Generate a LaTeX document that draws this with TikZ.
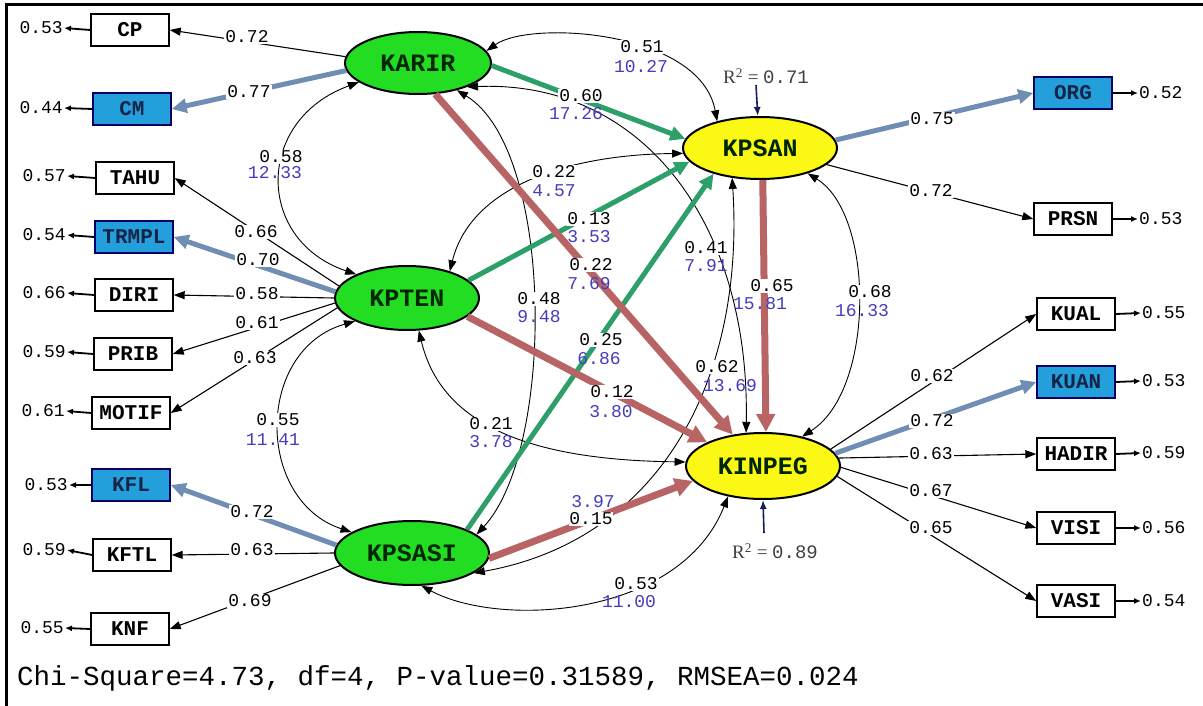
\documentclass[tikz,border=0pt]{standalone}
\usepackage{fontspec}
\setmainfont{Liberation Serif}
\newfontfamily\monofnt{Liberation Mono}
\usetikzlibrary{arrows.meta,shapes.geometric}
\definecolor{lvgreen}{RGB}{34,221,34}
\definecolor{lvyellow}{RGB}{250,248,20}
\definecolor{obsblue}{RGB}{35,160,220}
\definecolor{ldblue}{RGB}{112,142,180}
\definecolor{pathgreen}{RGB}{45,160,105}
\definecolor{pathred}{RGB}{185,100,100}
\definecolor{tblue}{RGB}{70,60,190}
\definecolor{navy}{RGB}{20,30,90}
\definecolor{boxtext}{RGB}{20,35,70}
\begin{document}
\begin{tikzpicture}[x=1pt,y=-1pt,
  latent/.style={ellipse, draw=black, line width=2pt, inner sep=0pt,
    font=\monofnt\bfseries\fontsize{25}{25}\selectfont, text=black!85!green},
  obs/.style={rectangle, draw=black, line width=1.4pt, minimum width=78pt, minimum height=32pt,
    inner sep=0pt, font=\monofnt\bfseries\fontsize{21}{21}\selectfont},
  obsb/.style={obs, fill=obsblue, draw=black!60!blue, text=boxtext},
  lab/.style={font=\monofnt\fontsize{18}{18}\selectfont, fill=white, inner sep=1pt},
  tval/.style={font=\monofnt\fontsize{18}{18}\selectfont, text=tblue, inner sep=1pt},
  errnum/.style={font=\monofnt\fontsize{18}{18}\selectfont, inner sep=1pt},
  load/.style={draw=black, line width=1.1pt, -{Triangle[length=11pt,width=8pt]}},
  loadb/.style={draw=ldblue, line width=5pt, -{Triangle[length=15pt,width=14pt]}},
  gpath/.style={draw=pathgreen, line width=5pt, -{Triangle[length=15pt,width=14pt]}},
  rpath/.style={draw=pathred, line width=7pt, -{Triangle[length=18pt,width=18pt]}},
  cov/.style={draw=black, line width=0.9pt, {Triangle[length=11pt,width=8pt]}-{Triangle[length=11pt,width=8pt]}},
  err/.style={draw=black, line width=1.8pt, -{Latex[length=7pt,width=6pt]}},
  r2arr/.style={draw=navy, line width=1.6pt, -{Latex[length=9pt,width=7pt]}},
  r2lab/.style={font=\fontsize{19}{19}\selectfont, text=black!75, inner sep=1pt}
]
\fill[white] (0,0) rectangle (1203,706);
\useasboundingbox (0,0) rectangle (1203,706);
\draw[line width=3pt] (6.5,706) -- (6.5,5) -- (1203,5);

% latent variables
\node[latent, fill=lvgreen, minimum width=146pt, minimum height=62pt] (KARIR) at (418,63) {KARIR};
\node[latent, fill=lvgreen, minimum width=144pt, minimum height=64pt] (KPTEN) at (407,298) {KPTEN};
\node[latent, fill=lvgreen, minimum width=154pt, minimum height=64pt] (KPSASI) at (412,553) {KPSASI};
\node[latent, fill=lvyellow, minimum width=154pt, minimum height=62pt] (KPSAN) at (760,148) {KPSAN};
\node[latent, fill=lvyellow, minimum width=154pt, minimum height=66pt] (KINPEG) at (763,466) {KINPEG};

% observed variables
\node[obs] (CP) at (130,30) {CP};
\node[obsb] (CM) at (132,109) {CM};
\node[obs] (TAHU) at (135,178) {TAHU};
\node[obsb] (TRMPL) at (134,237) {TRMPL};
\node[obs] (DIRI) at (134,295) {DIRI};
\node[obs] (PRIB) at (133,354) {PRIB};
\node[obs] (MOTIF) at (131,413) {MOTIF};
\node[obsb] (KFL) at (131,485) {KFL};
\node[obs] (KFTL) at (132,555) {KFTL};
\node[obs] (KNF) at (130,629) {KNF};
\node[obsb] (ORG) at (1073,93) {ORG};
\node[obs] (PRSN) at (1073,219) {PRSN};
\node[obs] (KUAL) at (1076,314) {KUAL};
\node[obsb] (KUAN) at (1076,382) {KUAN};
\node[obs] (HADIR) at (1076,454) {HADIR};
\node[obs] (VISI) at (1076,528) {VISI};
\node[obs] (VASI) at (1076,601) {VASI};

% error values
\node[errnum, anchor=east] (eCP) at (64,28) {0.53};
\node[errnum, anchor=east] (eCM) at (64,108) {0.44};
\node[errnum, anchor=east] (eTAHU) at (67,176) {0.57};
\node[errnum, anchor=east] (eTRMPL) at (67,235) {0.54};
\node[errnum, anchor=east] (eDIRI) at (67,293) {0.66};
\node[errnum, anchor=east] (ePRIB) at (67,352) {0.59};
\node[errnum, anchor=east] (eMOTIF) at (66,411) {0.61};
\node[errnum, anchor=east] (eKFL) at (69,485) {0.53};
\node[errnum, anchor=east] (eKFTL) at (67,550) {0.59};
\node[errnum, anchor=east] (eKNF) at (65,628) {0.55};
\node[errnum, anchor=west] (eORG) at (1138,93) {0.52};
\node[errnum, anchor=west] (ePRSN) at (1138,219) {0.53};
\node[errnum, anchor=west] (eKUAL) at (1141,313) {0.55};
\node[errnum, anchor=west] (eKUAN) at (1141,381) {0.53};
\node[errnum, anchor=west] (eHADIR) at (1141,453) {0.59};
\node[errnum, anchor=west] (eVISI) at (1141,528) {0.56};
\node[errnum, anchor=west] (eVASI) at (1141,601) {0.54};
\foreach \b in {CP,CM,TAHU,TRMPL,DIRI,PRIB,MOTIF,KFL,KFTL,KNF}
  \draw[err] (\b.west) -- (e\b.east);
\foreach \b in {ORG,PRSN,KUAL,KUAN,HADIR,VISI,VASI}
  \draw[err] (\b.east) -- (e\b.west);

% covariances
\draw[cov] (KARIR.198) .. controls (255,120) and (255,240) .. (KPTEN.155);
\draw[cov] (KPTEN.204) .. controls (255,350) and (255,500) .. (KPSASI.161);
\draw[cov] (KARIR.10) .. controls (530,20) and (700,30) .. (KPSAN.148);
\draw[cov] (KARIR.334) .. controls (640,80) and (750,220) .. (KINPEG.117);
\draw[cov] (KPTEN.32) .. controls (470,190) and (560,155) .. (KPSAN.184);
\draw[cov] (KARIR.325) .. controls (555,150) and (555,450) .. (KPSASI.16);
\draw[cov] (KPSAN.227) .. controls (745,380) and (660,540) .. (KPSASI.342);
\draw[cov] (KPTEN.290) .. controls (440,420) and (520,460) .. (KINPEG.177);
\draw[cov] (KPSASI.286) .. controls (500,628) and (680,618) .. (KINPEG.221);
\draw[cov] (KPSAN.332) .. controls (875,215) and (875,390) .. (KINPEG.37);

% loadings
\draw[load] (KARIR.175) -- (CP.east);
\draw[loadb] (KARIR.186) -- (CM.east);
\draw[load] (KPTEN.170) -- (TAHU.east);
\draw[loadb] (KPTEN.175) -- (TRMPL.east);
\draw[load] (KPTEN.180) -- (DIRI.east);
\draw[load] (KPTEN.184) -- (PRIB.east);
\draw[load] (KPTEN.188) -- (MOTIF.east);
\draw[loadb] (KPSASI.174) -- (KFL.east);
\draw[load] (KPSASI.180) -- (KFTL.east);
\draw[load] (KPSASI.190) -- (KNF.east);
\draw[loadb] (KPSAN.6) -- (ORG.west);
\draw[load] (KPSAN.346) -- (PRSN.west);
\draw[load] (KINPEG.14) -- (KUAL.west);
\draw[loadb] (KINPEG.10) -- (KUAN.west);
\draw[load] (KINPEG.6) -- (HADIR.west);
\draw[load] (KINPEG.359) -- (VISI.west);
\draw[load] (KINPEG.352) -- (VASI.west);

% structural paths
\draw[gpath] (KARIR.358) -- (KPSAN.173);
\draw[gpath] (KPTEN.16) -- (KPSAN.191);
\draw[gpath] (KPSASI.23) -- (KPSAN.209);
\draw[rpath] (KARIR.299) -- (KINPEG.134);
\draw[rpath] (KPTEN.343) -- (KINPEG.157);
\draw[rpath] (KPSASI.356) -- (KINPEG.192);
\draw[rpath] (KPSAN.275) -- (KINPEG.85);

% R squared
\node[r2lab] (R2a) at (766,76) {R\textsuperscript{2} = {\monofnt 0.71}};
\node[r2lab] (R2b) at (775,551) {R\textsuperscript{2} = {\monofnt 0.89}};
\coordinate (r2top) at (756,85);
\coordinate (r2bot) at (764,533);
\draw[r2arr] (r2top) -- (KPSAN.94);
\draw[r2arr] (r2bot) -- (KINPEG.270);

% loading labels
\node[lab] (lCP) at (247,37) {0.72};
\node[lab] (lCM) at (249,92) {0.77};
\node[lab] (lTAHU) at (256,232) {0.66};
\node[lab] (lTRMPL) at (258,260) {0.70};
\node[lab] (lDIRI) at (257,294) {0.58};
\node[lab] (lPRIB) at (257,323) {0.61};
\node[lab] (lMOTIF) at (255,358) {0.63};
\node[lab] (lKFL) at (252,512) {0.72};
\node[lab] (lKFTL) at (252,550) {0.63};
\node[lab] (lKNF) at (250,601) {0.69};
\node[lab] (lORG) at (932,119) {0.75};
\node[lab] (lPRSN) at (931,191) {0.72};
\node[lab] (lKUAL) at (932,376) {0.62};
\node[lab] (lKUAN) at (932,421) {0.72};
\node[lab] (lHADIR) at (931,454) {0.63};
\node[lab] (lVISI) at (931,491) {0.67};
\node[lab] (lVASI) at (931,528) {0.65};

% path and covariance labels
\node[lab] (c1) at (281,157) {0.58};
\node[lab] (c2) at (278,420) {0.55};
\node[lab] (c3) at (642,47) {0.51};
\node[lab] (p1) at (581,96) {0.60};
\node[lab] (c4) at (554,172) {0.22};
\node[lab] (p2) at (589,219) {0.13};
\node[lab] (p3) at (591,265) {0.22};
\node[lab] (c5) at (539,299) {0.48};
\node[lab] (p4) at (601,340) {0.25};
\node[lab] (p5) at (612,392) {0.12};
\node[lab] (c6) at (491,424) {0.21};
\node[lab] (c7) at (706,248) {0.41};
\node[lab] (p6) at (772,286) {0.65};
\node[lab] (c8) at (717,367) {0.62};
\node[lab] (c9) at (870,292) {0.68};
\node[lab, inner sep=0.5pt] (p7) at (591,519) {0.15};
\node[lab] (c10) at (636,584) {0.53};

\node[tval] (t1) at (275,173) {12.33};
\node[tval] (t2) at (273,440) {11.41};
\node[tval] (t3) at (641,67) {10.27};
\node[tval] (t4) at (576,114) {17.26};
\node[tval] (t5) at (554,191) {4.57};
\node[tval] (t6) at (589,237) {3.53};
\node[tval] (t7) at (589,284) {7.69};
\node[tval] (t8) at (539,317) {9.48};
\node[tval] (t9) at (599,359) {6.86};
\node[tval] (t10) at (611,412) {3.80};
\node[tval] (t11) at (491,442) {3.78};
\node[tval] (t12) at (706,266) {7.91};
\node[tval] (t13) at (760,304) {15.81};
\node[tval] (t14) at (730,386) {13.69};
\node[tval] (t15) at (862,311) {16.33};
\node[tval, inner sep=0.5pt] (t16) at (593,502) {3.97};
\node[tval] (t17) at (629,602) {11.00};

% fit statistics
\node[anchor=base west, inner sep=0pt, font=\monofnt\fontsize{27.5}{27.5}\selectfont] (fit) at (17,685)
  {Chi-Square=4.73, df=4, P-value=0.31589, RMSEA=0.024};
\end{tikzpicture}
\end{document}
